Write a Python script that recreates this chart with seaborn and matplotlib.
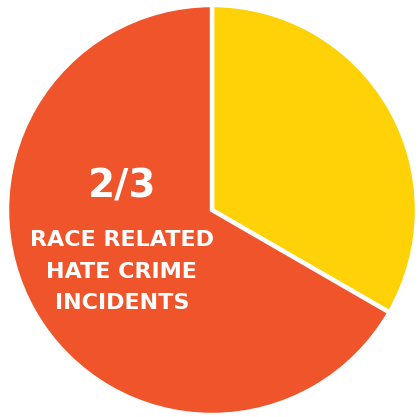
import matplotlib
matplotlib.use('Agg')
import matplotlib.pyplot as plt
import seaborn as sns

# ==================== Data ====================
labels = ['Other', 'Race related']
shares = [1, 2]
colors = ['#FED206', '#F0542A']
headline = '2/3'
caption = 'RACE RELATED\nHATE CRIME\nINCIDENTS'
# ==============================================

sns.set_style('white')
plt.rcParams['font.family'] = ['DejaVu Sans']

fig = plt.figure(figsize=(4.2, 4.17), dpi=100)
ax = fig.add_axes([0, 0, 1, 1])

ax.pie(
    shares, colors=colors, startangle=90, counterclock=False,
    radius=1.0, wedgeprops=dict(edgecolor='white', linewidth=3.2)
)

ax.set_xlim(-212 / 205, 208 / 205)
ax.set_ylim(-207 / 205, 210 / 205)
ax.set_aspect('equal')
ax.axis('off')

# annotation inside the big slice
ax.text(-0.44, 0.115, headline, color='white', fontsize=28, fontweight='bold',
        ha='center', va='center')
ax.text(-0.44, -0.30, caption, color='white', fontsize=16, fontweight='bold',
        ha='center', va='center', linespacing=1.7)

fig.savefig('out.png', dpi=100)
plt.close(fig)
